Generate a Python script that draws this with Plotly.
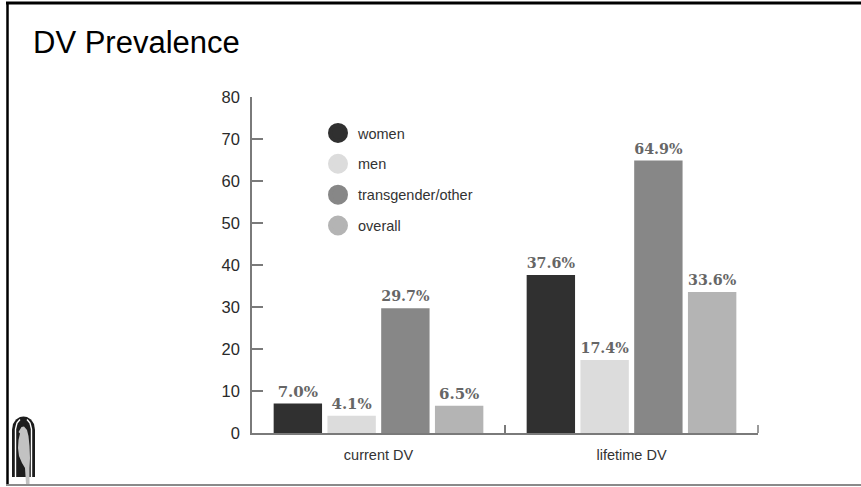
import plotly.graph_objects as go

# Prevalence of domestic violence (%), by group
categories = ["current DV", "lifetime DV"]
groups = ["women", "men", "transgender/other", "overall"]
women = [7.0, 37.6]
men = [4.1, 17.4]
transgender_other = [29.7, 64.9]
overall = [6.5, 33.6]
y_ticks = [0, 10, 20, 30, 40, 50, 60, 70, 80]

series = [women, men, transgender_other, overall]
colors = ["#303030", "#dcdcdc", "#878787", "#b4b4b4"]

W, H = 861, 487
L, R, T, B = 252, 103, 97, 54
PW, PH = W - L - R, H - T - B


def px(x):
    """pixel x -> paper x"""
    return (x - L) / PW


def py(y):
    """pixel y -> paper y"""
    return (H - B - y) / PH


fig = go.Figure()

for name, vals, col in zip(groups, series, colors):
    fig.add_trace(go.Bar(
        x=categories, y=vals, name=name,
        marker=dict(color=col, line=dict(width=0)),
        texttemplate="%{y:.1f}%", textposition="outside",
        textfont=dict(family="DejaVu Serif", size=15, color="#666666", weight="bold"),
        cliponaxis=False, showlegend=False,
    ))

# round legend swatches
for name, col in zip(groups, colors):
    fig.add_trace(go.Scatter(
        x=[None], y=[None], mode="markers", name=name, legendgroup=name,
        marker=dict(size=16, color=col, line=dict(width=4, color=col)),
    ))


def path(points, close=True):
    s = "M" + " L".join(f"{px(x):.5f},{py(y):.5f}" for x, y in points)
    return s + (" Z" if close else "")


shapes = []
# slide frame
shapes.append(dict(type="line", xref="paper", yref="paper",
                   x0=px(6), x1=px(870), y0=py(3), y1=py(3),
                   line=dict(color="#000000", width=3)))
shapes.append(dict(type="line", xref="paper", yref="paper",
                   x0=px(7.5), x1=px(7.5), y0=py(2), y1=py(485),
                   line=dict(color="#000000", width=2.5)))
shapes.append(dict(type="line", xref="paper", yref="paper",
                   x0=px(6), x1=px(870), y0=py(485), y1=py(485),
                   line=dict(color="#8a8a8a", width=2)))

# closing tick at the right end of the category axis
shapes.append(dict(type="line", xref="paper", yref="paper",
                   x0=1, x1=1, y0=0, y1=py(H - B - 8),
                   line=dict(color="#7a7a7a", width=1.5)))

# birdcage logo
cage = [(12, 477), (12, 430), (13, 424), (16, 419.5), (20, 417), (23.5, 416.5),
        (27, 417), (31, 419.5), (34, 424), (35, 430), (35, 477)]
shapes.append(dict(type="path", xref="paper", yref="paper", path=path(cage),
                   fillcolor="#1c1c1c", line=dict(width=0)))
for pts in ([(15.5, 477), (15.5, 429), (17, 423), (20, 419.5)],
            [(31.5, 477), (31.5, 429), (30, 423), (27, 419.5)]):
    shapes.append(dict(type="path", xref="paper", yref="paper",
                       path=path(pts, close=False),
                       line=dict(color="#ffffff", width=1.4)))
bird = [(21.5, 427), (18.5, 432), (20, 433.5), (18.5, 440), (18, 448), (19, 456),
        (22, 463), (25, 468), (26, 484), (29.5, 484), (29.5, 468),
        (30, 458), (29.5, 446), (28.5, 436), (27, 430), (24, 426.5)]
shapes.append(dict(type="path", xref="paper", yref="paper", path=path(bird),
                   fillcolor="#c2c2c2", line=dict(width=0)))

axis_font = dict(family="Liberation Sans, Arial, sans-serif", size=14.5, color="#333333")

fig.update_layout(
    width=W, height=H,
    margin=dict(l=L, r=R, t=T, b=B),
    paper_bgcolor="#ffffff", plot_bgcolor="#ffffff",
    barmode="group", bargap=0.15, bargroupgap=0.1,
    font=axis_font,
    title=dict(text="DV Prevalence", xref="container", yref="container",
               x=33 / W, xanchor="left", y=1 - 42 / H, yanchor="middle",
               font=dict(family="Liberation Sans, Arial, sans-serif", size=31, color="#000000")),
    legend=dict(x=px(318), y=py(117), xanchor="left", yanchor="top",
                bgcolor="rgba(0,0,0,0)", tracegroupgap=9,
                font=axis_font),
    shapes=shapes,
    xaxis=dict(type="category", range=[-0.5, 1.5], showgrid=False,
               showline=True, linecolor="#7a7a7a", linewidth=1.5,
               ticks="inside", tickson="boundaries", ticklen=8, tickwidth=1.5,
               tickcolor="#7a7a7a", ticklabelstandoff=8, zeroline=False),
    yaxis=dict(range=[0, 80], tickvals=y_ticks, showgrid=False,
               showline=True, linecolor="#7a7a7a", linewidth=1.5,
               ticks="inside", ticklen=11, tickwidth=1.5, tickcolor="#7a7a7a",
               tickfont=dict(family="Liberation Sans, Arial, sans-serif",
                             size=16.5, color="#2a2a2a"),
               ticklabelstandoff=7, zeroline=False),
)

fig.write_html("out.html")
